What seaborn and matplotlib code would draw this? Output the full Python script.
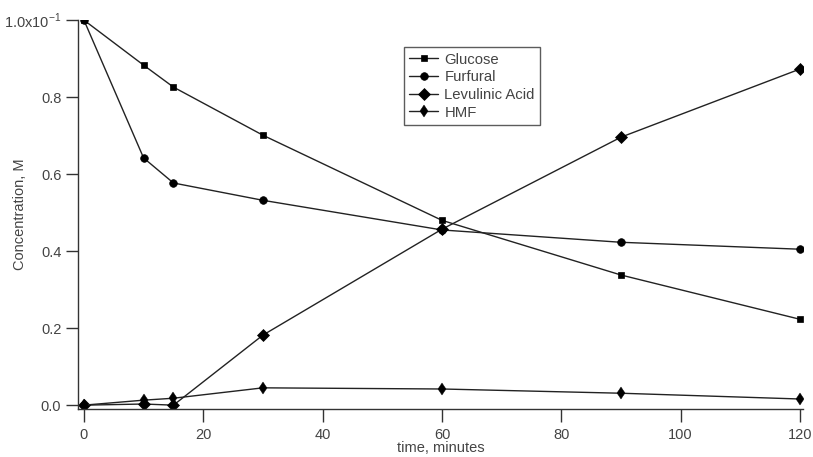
import pandas as pd
import seaborn as sns
import matplotlib.pyplot as plt

# sampling times (minutes)
times = [0, 10, 15, 30, 60, 90, 120]

# concentrations, in units of 1e-1 M
glucose = [1.0, 0.883, 0.826, 0.701, 0.480, 0.338, 0.223]
furfural = [1.0, 0.642, 0.577, 0.532, 0.455, 0.423, 0.405]
levulinic = [0.0, 0.003, 0.0, 0.182, 0.457, 0.696, 0.873]
hmf = [0.0, 0.013, 0.018, 0.045, 0.042, 0.031, 0.016]

series_names = ["Glucose", "Furfural", "Levulinic Acid", "HMF"]
y_ticks = [0.0, 0.2, 0.4, 0.6, 0.8, 1.0]
y_tick_labels = ["0.0", "0.2", "0.4", "0.6", "0.8", "1.0x10$^{\\mathregular{-1}}$"]
x_ticks = [0, 20, 40, 60, 80, 100, 120]


def build_frame():
    '''
    Long format frame for seaborn
    '''
    rows = []
    for name, values in zip(series_names, [glucose, furfural, levulinic, hmf]):
        for t, v in zip(times, values):
            rows.append({"time": t, "conc": v, "series": name})
    return pd.DataFrame(rows)


def main():
    sns.set_theme(style="white")
    plt.rcParams["font.family"] = ["Liberation Sans", "DejaVu Sans"]

    df = build_frame()
    fig = plt.figure(figsize=(8.13, 4.57), dpi=100)
    ax = fig.add_axes([0.0959, 0.105, 0.8918, 0.851])

    markers = {"Glucose": "s", "Furfural": "o", "Levulinic Acid": "D", "HMF": "d"}
    sizes = {"Glucose": 5, "Furfural": 5.5, "Levulinic Acid": 6, "HMF": 6}
    for name in series_names:
        sub = df[df["series"] == name]
        sns.lineplot(data=sub, x="time", y="conc", ax=ax, color="#222222",
                     linewidth=1.0, marker=markers[name],
                     markersize=sizes[name], markerfacecolor="black",
                     markeredgecolor="black",
                     markeredgewidth=0.5 if name != "HMF" else 0.3,
                     label=name)

    ax.set_xlim(-1, 120.5)
    ax.set_ylim(-0.01, 1.0)
    ax.set_xticks(x_ticks)
    ax.set_yticks(y_ticks)
    ax.set_yticklabels(y_tick_labels)

    for side in ["top", "right"]:
        ax.spines[side].set_visible(False)
    for side in ["left", "bottom"]:
        ax.spines[side].set_color("#333333")
        ax.spines[side].set_linewidth(1.0)
    ax.tick_params(axis="both", direction="out", length=9, width=1.0,
                   color="#333333", labelsize=10.5, labelcolor="#444444")
    ax.tick_params(axis="x", pad=5)
    ax.tick_params(axis="y", pad=3)
    ax.tick_params(left=True, bottom=True)

    ax.set_xlabel("time, minutes", fontsize=10.5, color="#444444", labelpad=-1)
    ax.set_ylabel("Concentration, M", fontsize=10.5, color="#444444")
    ax.yaxis.set_label_coords(-0.07, 0.5)

    leg = ax.legend(loc="upper left", bbox_to_anchor=(0.449, 0.93),
                    fontsize=10.7, frameon=True, fancybox=False,
                    borderpad=0.35, labelspacing=0.25, handlelength=2.0,
                    handletextpad=0.4, borderaxespad=0)
    leg.get_frame().set_edgecolor("#333333")
    leg.get_frame().set_linewidth(1.0)
    for t in leg.get_texts():
        t.set_color("#444444")

    plt.savefig("out.png", dpi=100)


if __name__ == "__main__":
    main()
